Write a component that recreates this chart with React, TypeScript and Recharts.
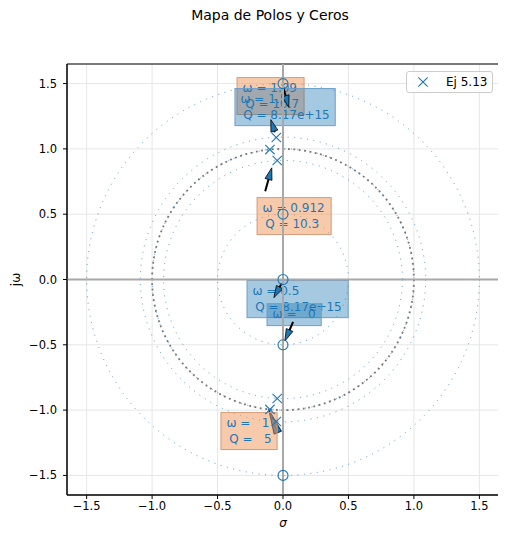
import React from 'react';
import {
    ScatterChart,
    Scatter,
    XAxis,
    YAxis,
    CartesianGrid,
    ReferenceArea,
    ReferenceLine,
} from 'recharts';

const FONT = '"DejaVu Sans", sans-serif';
const C0 = '#1f77b4';

// polos del Ej 5.13 (sigma, j omega)
const poleSigma = [-0.051, -0.1, -0.044, -0.051, -0.1, -0.044];
const poleOmega = [1.087, 0.995, 0.911, -1.087, -0.995, -0.911];

// ceros (sobre el eje imaginario)
const zeroSigma = [0, 0, 0, 0, 0];
const zeroOmega = [1.5, 0.5, 0, -0.5, -1.5];

// radios de los circulos |s| = omega de cada polo / cero
const omegaRadii = [1.5, 1.09, 1, 0.912, 0.5];
const unitRadius = 1;

const axisTicks = [-1.5, -1, -0.5, 0, 0.5, 1, 1.5];
const axisDomain = [-1.65, 1.65];

// textos de las anotaciones
const annLabels = [
    ['ω = 1.09', 'Q = 10.7'],
    ['ω = 1.5', 'Q = 8.17e+15'],
    ['ω = 0.912', 'Q = 10.3'],
    ['ω = 0.5', 'Q = 8.17e+15'],
    ['ω =   0'],
    ['ω =   1', 'Q =   5'],
];
const annKind = ['pole', 'zero', 'pole', 'zero', 'zero', 'pole'];
// cajas de las anotaciones: [x1, x2, y1, y2] en el plano s
const annBoxes = [
    [-0.351, 0.161, 1.263, 1.546],
    [-0.367, 0.399, 1.178, 1.462],
    [-0.198, 0.368, 0.344, 0.627],
    [-0.275, 0.498, -0.292, -0.008],
    [-0.122, 0.292, -0.353, -0.185],
    [-0.474, -0.045, -1.302, -1.019],
];
// flechas: [x desde, y desde, x hasta, y hasta]
const arrowA = [-0.004, 1.495, 0.044, 1.318];
const arrowB = [-0.063, 1.127, -0.093, 1.224];
const arrowC = [-0.136, 0.676, -0.086, 0.855];
const arrowD = [-0.011, -0.031, -0.07, -0.139];
const arrowE = [0.077, -0.325, 0.014, -0.471];
const arrowF = [-0.04, -1.173, -0.109, -0.995];

const poles = poleSigma.map((x, i) => ({ x, y: poleOmega[i] }));
const zeros = zeroSigma.map((x, i) => ({ x, y: zeroOmega[i] }));

const fmt = (v: number) => (v < 0 ? '−' : '') + Math.abs(v).toFixed(1);

const XMark = (p: any) => {
    const { cx, cy } = p;
    const h = 4.7;
    return (
        <g stroke={C0} strokeWidth={1.1} fill="none">
            <line x1={cx - h} y1={cy - h} x2={cx + h} y2={cy + h} />
            <line x1={cx - h} y1={cy + h} x2={cx + h} y2={cy - h} />
        </g>
    );
};

const OMark = (p: any) => <circle cx={p.cx} cy={p.cy} r={5} fill="none" stroke={C0} strokeWidth={1.1} />;

const ring = (stroke: string, width: number, dash: string, opacity: number) => (p: any) => (
    <ellipse
        cx={p.x + p.width / 2}
        cy={p.y + p.height / 2}
        rx={p.width / 2}
        ry={p.height / 2}
        fill="none"
        stroke={stroke}
        strokeWidth={width}
        strokeDasharray={dash}
        strokeOpacity={opacity}
    />
);

const boxShape = (lines: string[], kind: string) => (p: any) => {
    const isPole = kind === 'pole';
    return (
        <g>
            <rect
                x={p.x}
                y={p.y}
                width={p.width}
                height={p.height}
                fill={isPole ? '#f1965a' : C0}
                fillOpacity={isPole ? 0.5 : 0.4}
                stroke={isPole ? '#d59a78' : '#6f9fc6'}
                strokeWidth={1}
            />
            {lines.map((t, i) => (
                <text
                    key={i}
                    x={p.x + (i === 0 ? 5.5 : 8.2)}
                    y={p.y + 14.5 + i * 16}
                    fill={C0}
                    fontSize={12}
                    fontFamily={FONT}
                    style={{ whiteSpace: 'pre' }}
                >
                    {t}
                </text>
            ))}
        </g>
    );
};

// la flecha ocupa el rectangulo entre sus extremos; se dibuja de esquina a esquina
const arrowShape = (a: number[], full: boolean) => (p: any) => {
    const x1 = a[0] < a[2] ? p.x : p.x + p.width;
    const x2 = a[0] < a[2] ? p.x + p.width : p.x;
    const y1 = a[1] > a[3] ? p.y : p.y + p.height;
    const y2 = a[1] > a[3] ? p.y + p.height : p.y;
    const dx = x2 - x1;
    const dy = y2 - y1;
    const len = Math.hypot(dx, dy) || 1;
    const ux = dx / len;
    const uy = dy / len;
    const hl = full ? len : Math.min(12, len);
    const hw = full ? 4 : 3.6;
    const bx = x2 - ux * hl;
    const by = y2 - uy * hl;
    return (
        <g>
            {!full && <line x1={x1} y1={y1} x2={bx} y2={by} stroke="#000" strokeWidth={2} />}
            <polygon
                points={`${x2},${y2} ${bx - uy * hw},${by + ux * hw} ${bx + uy * hw},${by - ux * hw}`}
                fill={C0}
                stroke="#000"
                strokeWidth={0.8}
            />
        </g>
    );
};

const renderBox = (i: number) => (
    <ReferenceArea
        key={'box' + i}
        x1={annBoxes[i][0]}
        x2={annBoxes[i][1]}
        y1={annBoxes[i][2]}
        y2={annBoxes[i][3]}
        shape={boxShape(annLabels[i], annKind[i])}
    />
);

const renderArrow = (a: number[], key: string, full = false) => (
    <ReferenceArea
        key={key}
        x1={Math.min(a[0], a[2])}
        x2={Math.max(a[0], a[2])}
        y1={Math.min(a[1], a[3])}
        y2={Math.max(a[1], a[3])}
        shape={arrowShape(a, full)}
    />
);

const tickStyle = { fill: '#000', fontSize: 11.5, fontFamily: FONT };

export default function App() {
    return (
        <div style={{ position: 'relative', width: 498, height: 533, fontFamily: FONT }}>
            <div
                style={{
                    position: 'absolute',
                    top: 0,
                    left: 0,
                    width: 524,
                    textAlign: 'center',
                    fontSize: 14,
                    lineHeight: '14px',
                    color: '#000',
                }}
            >
                Mapa de Polos y Ceros
            </div>
            <ScatterChart width={498} height={533} margin={{ top: 56, right: 7, bottom: 0, left: 0 }}>
                <CartesianGrid stroke="#e6e6e6" strokeWidth={1} />
                <XAxis
                    type="number"
                    dataKey="x"
                    domain={axisDomain}
                    ticks={axisTicks}
                    allowDataOverflow
                    height={46}
                    tickSize={4}
                    tickMargin={3}
                    tick={tickStyle}
                    tickFormatter={fmt}
                    stroke="#000"
                    label={{
                        value: 'σ',
                        position: 'insideBottom',
                        offset: 14.5,
                        style: { fontStyle: 'italic', fontSize: 12, fill: '#000', fontFamily: FONT },
                    }}
                />
                <YAxis
                    type="number"
                    dataKey="y"
                    domain={axisDomain}
                    ticks={axisTicks}
                    allowDataOverflow
                    width={59}
                    tickSize={4}
                    tickMargin={6}
                    tick={tickStyle}
                    tickFormatter={fmt}
                    stroke="#000"
                    label={{
                        value: 'jω',
                        position: 'insideLeft',
                        angle: -90,
                        offset: 8,
                        style: { textAnchor: 'middle', fontSize: 12, fill: '#000', fontFamily: FONT },
                    }}
                />
                {omegaRadii.map((r) => (
                    <ReferenceArea
                        key={'ring' + r}
                        x1={-r}
                        x2={r}
                        y1={-r}
                        y2={r}
                        shape={ring(C0, 1, '1 5.5', 0.75)}
                    />
                ))}
                <ReferenceArea
                    x1={-unitRadius}
                    x2={unitRadius}
                    y1={-unitRadius}
                    y2={unitRadius}
                    shape={ring('#707070', 1.8, '1.8 3.6', 0.95)}
                />
                <ReferenceLine x={0} stroke="#a8a8a8" strokeWidth={2} />
                <ReferenceLine y={0} stroke="#a8a8a8" strokeWidth={2} />
                <Scatter data={zeros} shape={OMark} isAnimationActive={false} />
                <Scatter data={poles} shape={XMark} isAnimationActive={false} />
                {renderBox(0)}
                {renderBox(1)}
                {renderArrow(arrowA, 'a')}
                {renderArrow(arrowB, 'b')}
                {renderBox(2)}
                {renderArrow(arrowC, 'c')}
                {renderBox(3)}
                {renderArrow(arrowD, 'd')}
                {renderBox(4)}
                {renderArrow(arrowE, 'e')}
                {renderArrow(arrowF, 'f', true)}
                {renderBox(5)}
                <ReferenceArea
                    x1={axisDomain[0]}
                    x2={axisDomain[1]}
                    y1={axisDomain[0]}
                    y2={axisDomain[1]}
                    fill="none"
                    fillOpacity={0}
                    stroke="#000"
                    strokeOpacity={1}
                    strokeWidth={1}
                />
            </ScatterChart>
            <svg style={{ position: 'absolute', left: 398, top: 63 }} width={88} height={23}>
                <rect x={0.5} y={0.5} width={86} height={21} rx={2.5} fill="#fff" fillOpacity={0.8} stroke="#cccccc" />
                <XMark cx={17} cy={11} />
                <text x={40} y={15.3} fontSize={12} fontFamily={FONT} fill="#000">
                    Ej 5.13
                </text>
            </svg>
        </div>
    );
}
